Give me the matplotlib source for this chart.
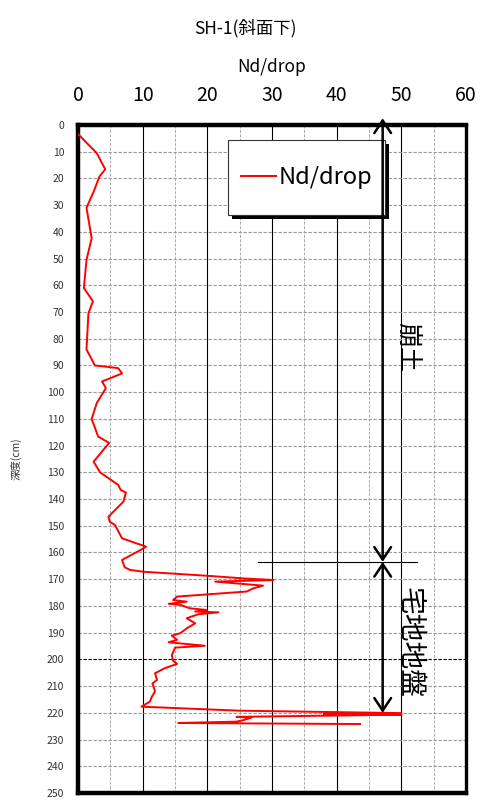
import matplotlib.pyplot as plt
from matplotlib.patches import Rectangle

plt.rcParams['font.family'] = ['Noto Sans CJK JP', 'DejaVu Sans']

# データ (貫入試験 Nd/drop)
depth = [3.4, 10.6, 16.6, 19.3, 25.0, 31.0, 42.4, 50.5, 61.0, 66.0,
         70.5, 84.0, 90.0, 91.0, 93.0, 96.0, 98.5, 104.0, 110.0, 116.6,
         119.0, 126.0, 130.0, 134.7, 136.6, 137.6, 141.0, 146.6, 148.5, 149.7,
         154.7, 156.8, 157.8, 159.0, 162.8, 165.5, 166.5, 167.2, 168.7, 169.7,
         170.3, 170.9, 172.4, 173.4, 174.6, 176.5, 177.8, 178.4, 179.2, 179.6,
         180.9, 181.5, 182.1, 182.4, 183.1, 184.6, 186.5, 188.4, 190.2, 191.1,
         192.7, 193.6, 194.9, 195.6, 198.4, 200.5, 201.7, 203.3, 205.2, 207.7,
         209.0, 212.0, 214.0, 215.8, 217.7, 219.2, 220.1, 220.4, 220.7, 221.5,
         221.8, 222.7, 223.3, 223.8, 224.2]
nd = [0.0, 2.9, 4.2, 3.3, 2.4, 1.3, 2.1, 1.3, 0.9, 2.3,
      1.6, 1.3, 2.6, 6.2, 6.8, 3.7, 4.3, 2.9, 2.1, 3.1,
      4.8, 2.4, 3.4, 6.2, 6.6, 7.4, 7.0, 4.7, 4.9, 5.7,
      6.8, 9.3, 10.5, 9.7, 6.8, 7.2, 8.0, 10.1, 19.9, 25.6,
      30.2, 21.2, 28.6, 27.1, 26.1, 15.3, 14.7, 16.8, 14.0, 15.8,
      17.3, 19.9, 18.1, 21.7, 18.6, 16.8, 18.1, 16.8, 15.8, 14.5,
      15.3, 14.0, 19.6, 15.0, 14.5, 14.7, 15.3, 13.4, 11.9, 12.2,
      11.5, 11.9, 11.4, 11.1, 9.8, 25.0, 50.0, 38.0, 50.0, 24.5,
      26.8, 25.6, 24.5, 15.5, 43.6]

x_ticks = [0, 10, 20, 30, 40, 50, 60]
y_ticks = list(range(0, 251, 10))

# 層区分
layer_bounds = [0, 163.5, 220]
layer_names = ['崩土', '宅地地盤']
layer_x = 47.1

fig = plt.figure(figsize=(4.82, 8.01), dpi=100)
ax = fig.add_axes([0.162, 0.010, 0.805, 0.834])

# グリッド
for v in range(5, 60, 10):
    ax.axvline(v, color='#aaaaaa', lw=0.7, ls=(0, (3, 1.5)), zorder=1)
for v in range(10, 60, 10):
    ax.axvline(v, color='black', lw=0.8, zorder=1)
for d in range(10, 250, 10):
    if d == 200:
        ax.axhline(d, color='black', lw=0.8, ls=(0, (3, 1.5)), zorder=1)
    else:
        ax.axhline(d, color='#999999', lw=0.8, ls=(0, (3, 1.5)), zorder=1)

ax.plot(nd, depth, color='red', lw=1.4, label='Nd/drop', zorder=3)

ax.set_xlim(0, 60)
ax.set_ylim(250, 0)
ax.set_xticks(x_ticks)
ax.set_yticks(y_ticks)
ax.xaxis.tick_top()
ax.xaxis.set_label_position('top')
ax.tick_params(axis='x', length=0, pad=14, labelsize=14)
ax.tick_params(axis='y', length=0, pad=10, labelsize=7.5, labelcolor='#333333')
ax.set_xlabel('Nd/drop', fontsize=12.5, labelpad=9)
ax.set_ylabel('深度(cm)', fontsize=7.5, labelpad=18, color='#333333')

for side in ['left', 'top', 'bottom']:
    ax.spines[side].set_linewidth(3.2)
ax.spines['right'].set_linewidth(2.4)

# 凡例 (枠は影付きの四角で描く)
box = (0.387, 0.865, 0.404, 0.113)
ax.add_patch(Rectangle((box[0] + 0.010, box[1] - 0.006), box[2], box[3],
                       transform=ax.transAxes, facecolor='black', edgecolor='none', zorder=5))
ax.add_patch(Rectangle((box[0], box[1]), box[2], box[3], transform=ax.transAxes,
                       facecolor='white', edgecolor='#333333', lw=0.8, zorder=5))
leg = ax.legend(loc='center left', bbox_to_anchor=(box[0] + 0.033, box[1] + box[3] / 2),
                fontsize=17, frameon=False, handlelength=1.5, handletextpad=0.1,
                borderaxespad=0, borderpad=0)
leg.set_zorder(6)

# 層の矢印
for i in range(len(layer_names)):
    top = layer_bounds[i] - (2.5 if i == 0 else 0)
    ax.annotate('', xy=(layer_x, top), xytext=(layer_x, layer_bounds[i + 1]),
                arrowprops=dict(arrowstyle='<->,head_length=0.9,head_width=0.6',
                                color='black', lw=1.8, shrinkA=0, shrinkB=0),
                annotation_clip=False, zorder=7)
ax.plot([27.8, 52.4], [layer_bounds[1], layer_bounds[1]], color='black', lw=0.8, zorder=4)
ax.text(51.0, 83, layer_names[0], rotation=-90, fontsize=18, ha='center', va='center')
ax.text(51.3, 193.5, layer_names[1], rotation=-90, fontsize=20, ha='center', va='center')

fig.text(245 / 482, 1 - 28 / 801, 'SH-1(斜面下)', fontsize=12.5, ha='center', va='center')

plt.savefig('out.png', dpi=100)
plt.close()
